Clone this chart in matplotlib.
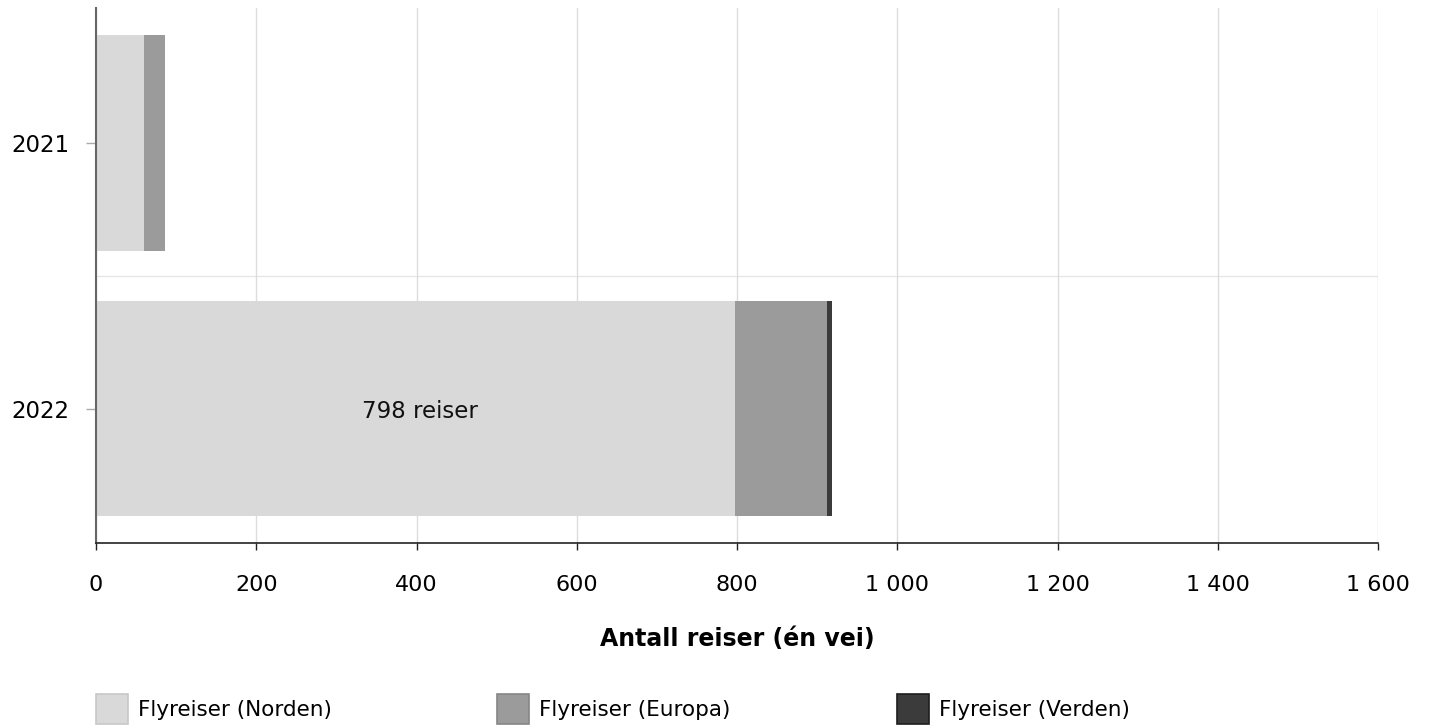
import matplotlib
matplotlib.use("Agg")
import matplotlib.pyplot as plt
from matplotlib.patches import Patch

years = ['2021', '2022']
norden = [60, 798]
europa = [26, 114]
verden = [0, 6]
series_names = ['Flyreiser (Norden)', 'Flyreiser (Europa)', 'Flyreiser (Verden)']
colors = ['#d9d9d9', '#9b9b9b', '#3b3b3b']
edge_colors = ['#c8c8c8', '#868686', '#1e1e1e']
xticks = [0, 200, 400, 600, 800, 1000, 1200, 1400, 1600]

plt.rcParams['font.family'] = ['DejaVu Sans']

W, H = 1430, 725
fig = plt.figure(figsize=(W / 100, H / 100), dpi=100)
ax = fig.add_axes([96 / W, 1 - 543 / H, (1378 - 96) / W, (543 - 8) / H])

pos = list(range(len(years)))
left = [0] * len(years)
for vals, c in zip([norden, europa, verden], colors):
    ax.barh(pos, vals, left=left, height=0.81, color=c, zorder=2)
    left = [l + v for l, v in zip(left, vals)]

ax.text(norden[1] / 2 + 5, 1.01, f'{norden[1]} reiser', ha='center', va='center',
        fontsize=16.5, color='#111111', zorder=3)

ax.set_xlim(0, 1600)
ax.set_ylim(1.505, -0.508)
ax.set_xticks(xticks)
ax.set_xticklabels([f'{t:,}'.replace(',', '\u00a0') for t in xticks], fontsize=16)
ax.set_yticks(pos)
ax.set_yticklabels(years, fontsize=16.5)
ax.grid(axis='x', color='#dddddd', linewidth=1, zorder=0)
ax.axhline(0.5, color='#e6e6e6', linewidth=1, zorder=0)

for s in ['top', 'right']:
    ax.spines[s].set_visible(False)
ax.spines['left'].set_color('#666666')
ax.spines['left'].set_linewidth(1.5)
ax.spines['bottom'].set_color('#222222')
ax.spines['bottom'].set_linewidth(1.2)
ax.tick_params(axis='x', length=5, width=1, color='#222222', pad=18)
ax.tick_params(axis='y', length=7, width=1, color='#aaaaaa', pad=12)

ax.set_xlabel('Antall reiser (én vei)', fontweight='bold', fontsize=17, labelpad=23)

# one legend entry per column, placed like the original
for i, (name, c, e) in enumerate(zip(series_names, colors, edge_colors)):
    x0 = [96, 497, 897][i]
    fig.legend([Patch(facecolor=c, edgecolor=e, linewidth=1.2)], [name],
               loc='lower left', bbox_to_anchor=(x0 / W, 1 / H), frameon=False,
               borderpad=0, borderaxespad=0, handlelength=1.5, handleheight=1.75,
               handletextpad=0.45, fontsize=15.5)

fig.savefig('out.png', dpi=100)
